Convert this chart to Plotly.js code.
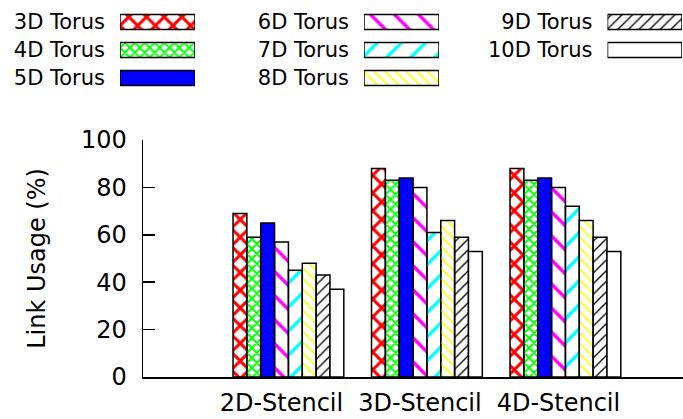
<!DOCTYPE html>
<html>
<head>
<meta charset="utf-8">
<script src="https://cdn.plot.ly/plotly-3.0.1.min.js"></script>
<style>
  html, body { margin: 0; padding: 0; background: #fff; }
  #chart { width: 683px; height: 419px; }
</style>
</head>
<body>
<div id="chart"></div>
<script>
// Benchmarks on the x axis
const categories = ['2D-Stencil', '3D-Stencil', '4D-Stencil'];

// Torus topologies, one series each
const seriesNames = ['3D Torus', '4D Torus', '5D Torus', '6D Torus',
                     '7D Torus', '8D Torus', '9D Torus', '10D Torus'];

// Link usage (%) per benchmark
const torus3D  = [69, 88, 88];
const torus4D  = [59, 83, 83];
const torus5D  = [65, 84, 84];
const torus6D  = [57, 80, 80];
const torus7D  = [45, 61, 72];
const torus8D  = [48, 66, 66];
const torus9D  = [43, 59, 59];
const torus10D = [37, 53, 53];

const seriesValues = [torus3D, torus4D, torus5D, torus6D,
                      torus7D, torus8D, torus9D, torus10D];

// Y axis ticks
const yTicks = [0, 20, 40, 60, 80, 100];

// Fill style of each series (gnuplot-like hatching)
const fills = [
  { bg: '#ffffff', fg: '#ff0000', shape: 'x',  size: 12.5, solidity: 0.42 },
  { bg: '#ffffff', fg: '#00ff00', shape: 'x',  size: 7,    solidity: 0.48 },
  { bg: '#0000ff', fg: '#0000ff', shape: '',   size: 8,    solidity: 0.3 },
  { bg: '#ffffff', fg: '#ff00ff', shape: '\\', size: 17,   solidity: 0.2 },
  { bg: '#ffffff', fg: '#00ffff', shape: '/',  size: 17,   solidity: 0.2 },
  { bg: '#ffffff', fg: '#ffff00', shape: '\\', size: 7.5,  solidity: 0.22 },
  { bg: '#ffffff', fg: '#000000', shape: '/',  size: 7.5,  solidity: 0.18 },
  { bg: '#ffffff', fg: '#ffffff', shape: '',   size: 8,    solidity: 0.3 }
];

const FONT = 'DejaVu Sans, Liberation Sans, sans-serif';
const outline = { color: '#000000', width: 1.5 };

function markerFor(idx) {
  const f = idx.map(i => fills[i]);
  return {
    color: f.map(s => (s.shape ? s.fg : s.bg)),
    line: outline,
    pattern: {
      shape: f.map(s => s.shape),
      fgcolor: f.map(s => s.fg),
      bgcolor: f.map(s => s.bg),
      fgopacity: 1,
      size: f.map(s => s.size),
      solidity: f.map(s => s.solidity),
      fillmode: 'replace'
    }
  };
}

// Main clustered bars
const traces = seriesNames.map((name, i) => ({
  type: 'bar',
  name: name,
  x: categories,
  y: seriesValues[i],
  marker: markerFor(categories.map(() => i)),
  showlegend: false,
  hoverinfo: 'x+y+name',
  xaxis: 'x',
  yaxis: 'y'
}));

// Key: three columns of labelled swatches, gnuplot style (label left, swatch right)
const keyColumns = [[0, 1, 2], [3, 4, 5], [6, 7]];
const keyDomainsX = [[120 / 683, 195 / 683], [364 / 683, 439 / 683], [607.5 / 683, 682 / 683]];
const keyDomainY = [1 - 92 / 419, 1 - 8 / 419];

keyColumns.forEach((col, c) => {
  const n = c + 2;
  traces.push({
    type: 'bar',
    orientation: 'h',
    y: col.map(i => seriesNames[i]),
    x: col.map(() => 1),
    width: 0.54,
    marker: markerFor(col),
    showlegend: false,
    hoverinfo: 'skip',
    xaxis: 'x' + n,
    yaxis: 'y' + n
  });
});

const layout = {
  width: 683,
  height: 419,
  margin: { l: 0, r: 0, t: 0, b: 0, pad: 0 },
  paper_bgcolor: '#ffffff',
  plot_bgcolor: '#ffffff',
  font: { family: FONT, size: 24, color: '#000000' },
  barmode: 'group',
  bargap: 0.2,
  bargroupgap: 0,
  showlegend: false,
  xaxis: {
    domain: [143 / 683, 1],
    type: 'category',
    range: [-1.05, 2.849],
    showline: true,
    linecolor: '#000000',
    linewidth: 1.5,
    ticks: '',
    showgrid: false,
    zeroline: false,
    ticklabelshift: -7,
    ticklabelstandoff: 4,
    tickfont: { family: FONT, size: 24, color: '#000000' },
    fixedrange: true
  },
  yaxis: {
    domain: [42 / 419, 279 / 419],
    range: [0, 100],
    tickvals: yTicks,
    ticktext: yTicks.map(String),
    ticks: 'inside',
    ticklen: 12,
    tickwidth: 1.5,
    tickcolor: '#000000',
    showline: true,
    linecolor: '#000000',
    linewidth: 1.5,
    showgrid: false,
    zeroline: false,
    ticklabelstandoff: 10,
    tickfont: { family: FONT, size: 24, color: '#000000' },
    title: { text: 'Link Usage (%)', font: { family: FONT, size: 24, color: '#000000' }, standoff: 28 },
    fixedrange: true
  }
};

keyColumns.forEach((col, c) => {
  const n = c + 2;
  layout['xaxis' + n] = {
    domain: keyDomainsX[c],
    anchor: 'y' + n,
    range: [0, 1],
    visible: false,
    fixedrange: true
  };
  layout['yaxis' + n] = {
    domain: keyDomainY,
    anchor: 'x' + n,
    type: 'category',
    categoryorder: 'array',
    categoryarray: col.map(i => seriesNames[i]),
    range: [2.5, -0.5],
    showline: false,
    showgrid: false,
    zeroline: false,
    ticks: '',
    ticklabelstandoff: 14,
    tickfont: { family: FONT, size: 21, color: '#000000' },
    fixedrange: true
  };
});

Plotly.newPlot('chart', traces, layout, { displayModeBar: false, staticPlot: true });
</script>
</body>
</html>
